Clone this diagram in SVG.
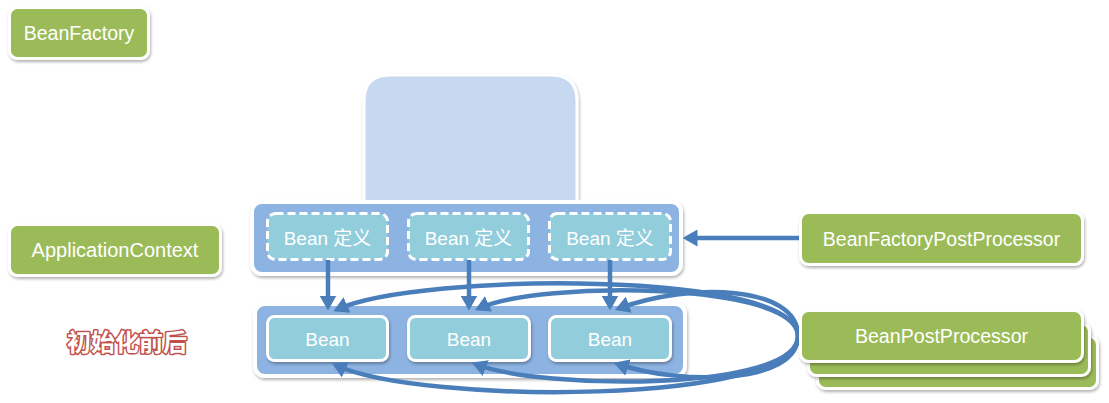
<svg xmlns="http://www.w3.org/2000/svg" width="1109" height="403" viewBox="0 0 1109 403">
  <style>
    .lbl { font-family: "Liberation Sans", "Noto Sans CJK SC", sans-serif; fill: #ffffff; text-anchor: middle; }
    .green { fill: #9BBB59; stroke: #ffffff; stroke-width: 3; filter: url(#sh); }
    .cont { fill: #8DB3E2; stroke: #ffffff; stroke-width: 4; filter: url(#sh); }
    .def { fill: #92CDDC; stroke: #ffffff; stroke-width: 3; stroke-dasharray: 8 4; }
    .bean { fill: #92CDDC; stroke: #ffffff; stroke-width: 3; filter: url(#sh); }
    .conn { fill: none; stroke: #4A7EBB; stroke-width: 4.5; marker-end: url(#ah); }
  </style>
  <defs>
    <filter id="sh" x="-10%" y="-20%" width="120%" height="150%">
      <feDropShadow dx="1" dy="2" stdDeviation="1.8" flood-color="#000" flood-opacity="0.3"/>
    </filter>
    <marker id="ah" markerUnits="userSpaceOnUse" markerWidth="15" markerHeight="17" refX="11" refY="8.5" orient="auto">
      <path d="M0,0 L15,8.5 L0,17 z" fill="#4A7EBB"/>
    </marker>
  </defs>

  <rect width="1109" height="403" fill="#ffffff"/>

  <g id="beanfactory">
    <rect class="green" x="9.5" y="7.5" width="139" height="51" rx="8"/>
    <text class="lbl" x="79" y="40" font-size="19.5">BeanFactory</text>
  </g>

  <g id="applicationcontext">
    <rect class="green" x="9.5" y="224.5" width="211" height="51" rx="8"/>
    <text class="lbl" x="115" y="257" font-size="20">ApplicationContext</text>
  </g>

  <g id="factory-top">
    <path d="M364,205 L364,101 Q364,75 390,75 L551,75 Q577,75 577,101 L577,205 Z" fill="#C6D9F1" stroke="#ffffff" stroke-width="3" filter="url(#sh)"/>
  </g>

  <g id="definitions">
    <rect class="cont" x="252" y="202" width="429" height="72" rx="10"/>
    <g id="def1">
      <rect class="def" x="267.5" y="213.5" width="120" height="46" rx="8"/>
      <text class="lbl" x="327.5" y="245" font-size="19">Bean 定义</text>
    </g>
    <g id="def2">
      <rect class="def" x="408.5" y="213.5" width="120" height="46" rx="8"/>
      <text class="lbl" x="468.5" y="245" font-size="19">Bean 定义</text>
    </g>
    <g id="def3">
      <rect class="def" x="549.5" y="213.5" width="121" height="46" rx="8"/>
      <text class="lbl" x="610" y="245" font-size="19">Bean 定义</text>
    </g>
  </g>

  <g id="beans">
    <rect class="cont" x="255" y="304" width="430" height="72" rx="10"/>
    <g id="bean1">
      <rect class="bean" x="267.5" y="316.5" width="120" height="44" rx="7"/>
      <text class="lbl" x="327.5" y="346" font-size="19">Bean</text>
    </g>
    <g id="bean2">
      <rect class="bean" x="408.5" y="316.5" width="121" height="44" rx="7"/>
      <text class="lbl" x="469" y="346" font-size="19">Bean</text>
    </g>
    <g id="bean3">
      <rect class="bean" x="549.5" y="316.5" width="121" height="44" rx="7"/>
      <text class="lbl" x="610" y="346" font-size="19">Bean</text>
    </g>
  </g>

  <g id="connectors">
    <path class="conn" d="M800,238 L686.5,238"/>
    <path class="conn" d="M328,260 L328,306.5"/>
    <path class="conn" d="M469,260 L469,306.5"/>
    <path class="conn" d="M610,260 L610,306.5"/>
    <path class="conn" d="M798,336 C798,270 420,272 337,309.5"/>
    <path class="conn" d="M798,336 C798,282 540,280 478.5,308.5"/>
    <path class="conn" d="M798,336 C798,285 690,282 618.5,308.5"/>
    <path class="conn" d="M798,336 C798,405 420,405 335.5,365"/>
    <path class="conn" d="M798,336 C798,392 540,390 475.5,364"/>
    <path class="conn" d="M798,336 C798,385 680,385 617.5,364"/>
  </g>

  <g id="bfpp">
    <rect class="green" x="800.5" y="212.5" width="282" height="52" rx="8"/>
    <text class="lbl" x="941.5" y="246" font-size="19.5">BeanFactoryPostProcessor</text>
  </g>

  <g id="bpp">
    <rect class="green" x="817.5" y="336.5" width="280" height="52" rx="8"/>
    <rect class="green" x="808.5" y="323.5" width="281" height="52" rx="8"/>
    <rect class="green" x="800.5" y="310.5" width="282" height="51" rx="8"/>
    <text class="lbl" x="941.5" y="343" font-size="19.6">BeanPostProcessor</text>
  </g>

  <g id="note">
    <text x="127" y="351" font-family="'Noto Sans CJK SC', sans-serif" font-weight="bold" font-size="24" text-anchor="middle" fill="#ffffff" stroke="#C0504D" stroke-width="3" paint-order="stroke" stroke-linejoin="round">初始化前后</text>
  </g>
</svg>
